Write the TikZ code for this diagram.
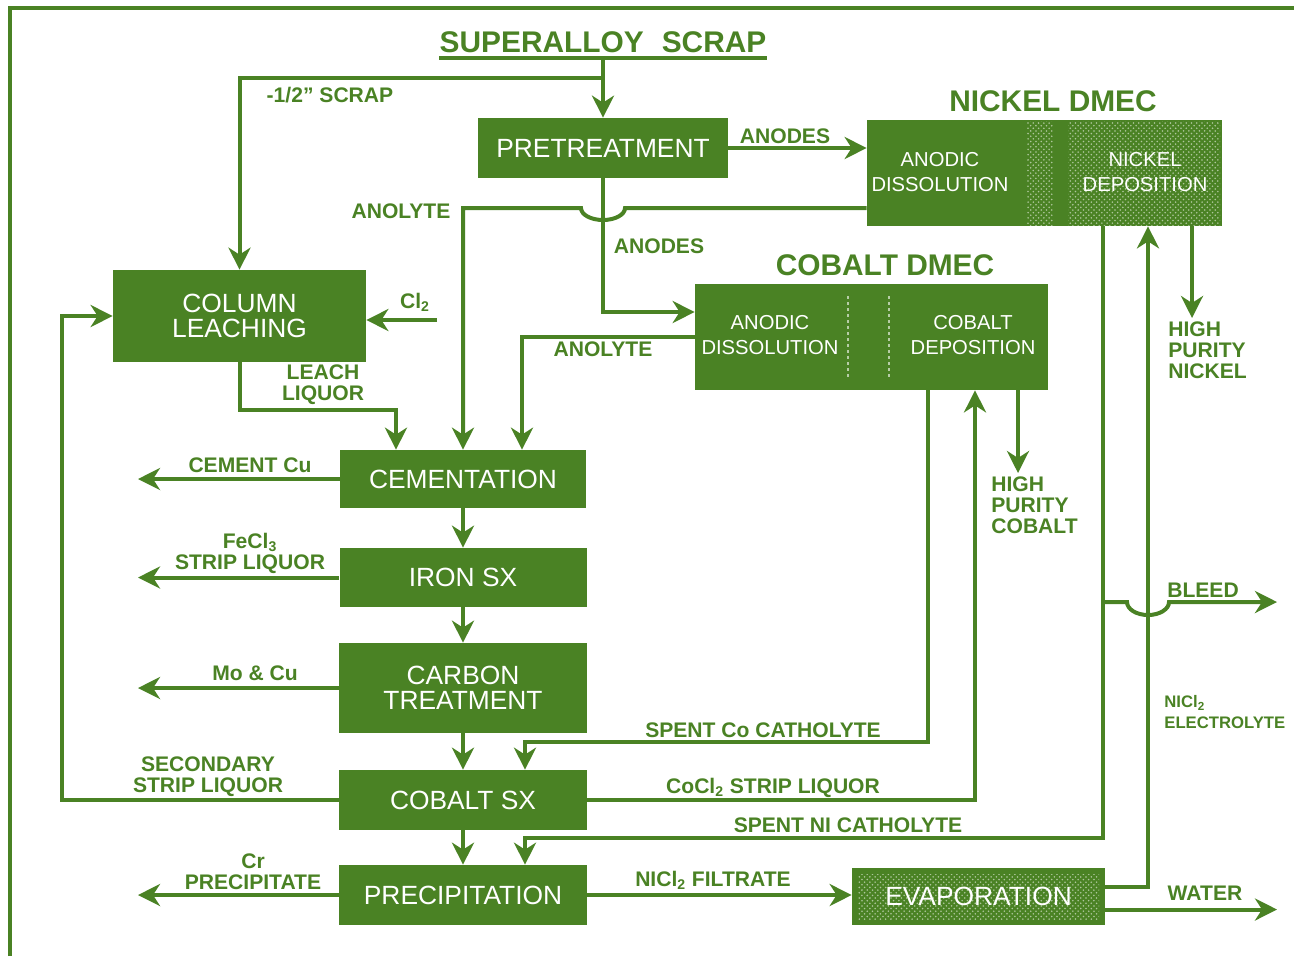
\documentclass[tikz,border=0pt]{standalone}
\usepackage{fontspec}
\setmainfont{Liberation Sans}
\usetikzlibrary{arrows.meta}
\usetikzlibrary{patterns}
\definecolor{pgreen}{RGB}{74,130,36}

\begin{document}
\begin{tikzpicture}[x=0.2mm, y=-0.2mm,
    ln/.style={draw=pgreen, line width=0.8mm},
    arr/.style={ln, -{Stealth[length=4.4mm, width=4.4mm, inset=1.4mm]}},
    box/.style={rectangle, fill=pgreen, text=white, align=center, inner sep=0pt, font=\fontsize{15}{14.5}\selectfont},
    celltxt/.style={text=white, align=center, inner sep=0pt, font=\fontsize{11.5}{14}\selectfont},
    lbl/.style={text=pgreen, align=center, inner sep=0pt, font=\bfseries\fontsize{12}{12}\selectfont},
    title/.style={text=pgreen, inner sep=0pt, font=\bfseries\fontsize{17}{17}\selectfont},
    stip/.style={pattern=crosshatch dots, pattern color=white!55!pgreen}]
    \useasboundingbox (0,0) rectangle (1294,956);
    % Frame
    \draw[ln] (10,956) -- (10,8) -- (1294,8);

    % Feed
    \node[title, minimum width=65mm, inner ysep=1mm] (scrap) at (603,42) {SUPERALLOY\hspace{0.6em}SCRAP};
    \draw[ln] (scrap.south west) -- (scrap.south east);

    % Process boxes
    \node[box, minimum width=50mm, minimum height=12mm] (pre) at (603,148) {PRETREATMENT};
    \node[box, minimum width=50.6mm, minimum height=18.4mm] (col) at (239.5,316) {COLUMN\\LEACHING};
    \node[box, minimum width=49.2mm, minimum height=11.6mm] (cem) at (463,479) {CEMENTATION};
    \node[box, minimum width=49.4mm, minimum height=11.8mm] (iron) at (463,577.5) {IRON SX};
    \node[box, minimum width=49.6mm, minimum height=18mm] (carb) at (463,688) {CARBON\\TREATMENT};
    \node[box, minimum width=49.6mm, minimum height=12mm] (cosx) at (463,800) {COBALT SX};
    \node[box, minimum width=49.6mm, minimum height=12mm] (prec) at (463,895) {PRECIPITATION};
    \node[box, minimum width=50.6mm, minimum height=11.4mm] (evap) at (978.5,896.5) {};
    \fill[stip] (858,874) rectangle (1099,919);
    \node[box, fill=none] (evaptxt) at (evap) {EVAPORATION};

    % Nickel DMEC cell
    \node[box, minimum width=71mm, minimum height=21.2mm] (ndmec) at (1044.5,173) {};
    \fill[stip] (1027,121) rectangle (1053,225);
    \fill[stip] (1068,121) rectangle (1220,225);
    \node[celltxt] (nad) at (940,172) {ANODIC\\DISSOLUTION};
    \node[celltxt] (ndep) at (1145,172) {NICKEL\\DEPOSITION};
    \node[title] (ntitle) at (1053,101) {NICKEL DMEC};

    % Cobalt DMEC cell
    \node[box, minimum width=70.6mm, minimum height=21.2mm] (cdmec) at (871.5,337) {};
    \draw[white!60!pgreen, line width=0.5mm, dotted] (848,296) -- (848,380);
    \draw[white!60!pgreen, line width=0.5mm, dotted] (889,296) -- (889,380);
    \node[celltxt] (cad) at (770,335) {ANODIC\\DISSOLUTION};
    \node[celltxt] (cdep) at (973,335) {COBALT\\DEPOSITION};
    \node[title] (ctitle) at (885,265) {COBALT DMEC};

    % Bends and free ends
    \coordinate (split) at (603,78);
    \coordinate (outL) at (138,0);
    \coordinate (ll) at (396,410);
    \coordinate (hopA) at (603,208);
    \coordinate (hopB) at (1148,602);
    \coordinate (bl) at (1103,602);
    \coordinate (bleedend) at (1277,602);
    \coordinate (water) at (1277,909.5);
    \coordinate (cl2) at (437,320);
    \coordinate (recyc) at (62,316);
    \coordinate (cc) at (525,742);
    \coordinate (nc) at (525,838);
    \coordinate (hpc) at (1018,473);
    \coordinate (hpn) at (1192,318);

    % Scrap feed
    \draw[ln] (scrap.south) -- (split);
    \draw[arr] (split) -- (pre.north);
    \draw[arr] (split) -| (col.north);

    % Anodes to the cells
    \draw[arr] (pre.east) -- (pre.east -| ndmec.west);
    \draw[arr] (pre.south) |- ([yshift=5mm]cdmec.west);

    % Anolyte and leach liquor to cementation
    \draw[arr] ([yshift=-7mm]ndmec.west) -- ([xshift=4.4mm]hopA) arc[start angle=0, end angle=-180, x radius=4.4mm, y radius=2.4mm] -| (cem.north);
    \draw[arr] (cdmec.west) -| ([xshift=11.8mm]cem.north);
    \draw[arr] (cl2) -- (cl2 -| col.east);
    \draw[arr] (col.south) |- (ll) -- (ll |- cem.north);

    % Main chain
    \draw[arr] (cem) -- (iron);
    \draw[arr] (iron) -- (carb);
    \draw[arr] (carb) -- (cosx);
    \draw[arr] (cosx) -- (prec);

    % Side products
    \draw[arr] (cem.west) -- (cem.west -| outL);
    \draw[arr] (iron.west) -- (iron.west -| outL);
    \draw[arr] (carb.west) -- (carb.west -| outL);
    \draw[arr] (prec.west) -- (prec.west -| outL);
    \draw[arr] (cosx.west) -| (recyc) -- (col.west);

    % Cobalt loop
    \draw[arr] ([xshift=11.3mm]cdmec.south) |- (cc) -- (cc |- cosx.north);
    \draw[arr] (cosx.east) -| ([xshift=20.7mm]cdmec.south);
    \draw[arr] (cdmec.south -| hpc) -- (hpc);

    % Nickel loop
    \draw[arr] ([xshift=11.7mm]ndmec.south) |- (nc) -- (nc |- prec.north);
    \draw[arr] (bl) -- ([xshift=-4.2mm]hopB) arc[start angle=180, end angle=360, x radius=4.2mm, y radius=2.6mm] -- (bleedend);
    \draw[arr] (prec.east) -- (prec.east -| evap.west);
    \draw[arr] ([yshift=2mm]evap.east) -| ([xshift=20.7mm]ndmec.south);
    \draw[arr] (evap.east |- water) -- (water);
    \draw[arr] (ndmec.south -| hpn) -- (hpn);

    % Stream labels
    \node[lbl] (lscrap) at (330,95) {-1/2" SCRAP};
    \node[lbl] (lanodes1) at (785,136) {ANODES};
    \node[lbl] (lanol1) at (401,211) {ANOLYTE};
    \node[lbl] (lanodes2) at (659,246) {ANODES};
    \node[lbl] (lcl2) at (415,302) {Cl\textsubscript{2}};
    \node[lbl] (lanol2) at (603,349) {ANOLYTE};
    \node[lbl] (lleach) at (323,385) {LEACH\\LIQUOR};
    \node[lbl, align=left, anchor=west] (lhpn) at (1168,350) {HIGH\\PURITY\\NICKEL};
    \node[lbl, align=left, anchor=west] (lhpc) at (991,505) {HIGH\\PURITY\\COBALT};
    \node[lbl] (lcu) at (250,465) {CEMENT Cu};
    \node[lbl] (lfe) at (250,553) {FeCl\textsubscript{3}\\STRIP LIQUOR};
    \node[lbl] (lmo) at (255,673) {Mo \& Cu};
    \node[lbl] (lspco) at (763,730) {SPENT Co CATHOLYTE};
    \node[lbl] (lsec) at (208,777) {SECONDARY\\STRIP LIQUOR};
    \node[lbl] (lcocl) at (773,788) {CoCl\textsubscript{2} STRIP LIQUOR};
    \node[lbl] (lspni) at (848,825) {SPENT NI CATHOLYTE};
    \node[lbl] (lcr) at (253,872) {Cr\\PRECIPITATE};
    \node[lbl] (lfilt) at (713,880) {NICl\textsubscript{2} FILTRATE};
    \node[lbl] (lbleed) at (1203,590) {BLEED};
    \node[lbl, align=left, anchor=west, font=\bfseries\fontsize{9.5}{12}\selectfont] (lelec) at (1164,712) {NICl\textsubscript{2}\\ELECTROLYTE};
    \node[lbl] (lwater) at (1205,893) {WATER};
\end{tikzpicture}
\end{document}
